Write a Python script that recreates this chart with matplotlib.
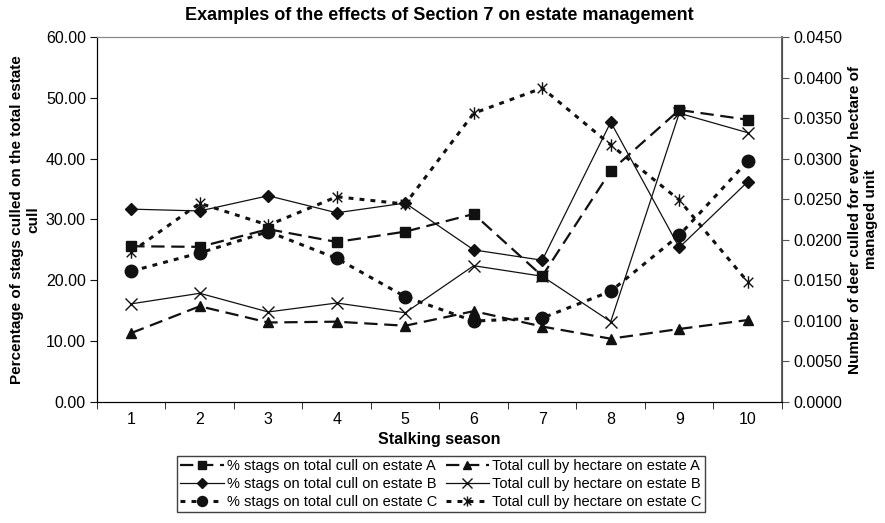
import numpy as np
import matplotlib
matplotlib.use("Agg")
import matplotlib.pyplot as plt
from matplotlib.path import Path

plt.rcParams['font.family'] = ['Liberation Sans', 'DejaVu Sans']

seasons = [1, 2, 3, 4, 5, 6, 7, 8, 9, 10]

# % stags culled on total cull (left axis)
stags_a = [25.6, 25.5, 28.4, 26.3, 28.0, 30.9, 20.7, 38.0, 48.0, 46.4]
stags_b = [31.7, 31.4, 33.9, 31.1, 32.7, 25.0, 23.3, 46.0, 25.4, 36.2]
stags_c = [21.5, 24.5, 28.0, 23.6, 17.3, 13.3, 13.8, 18.2, 27.4, 39.6]

# total cull by hectare (right axis)
cull_a = [0.0085, 0.0118, 0.0098, 0.0099, 0.0094, 0.0112, 0.0093, 0.0078, 0.0090, 0.0101]
cull_b = [0.0121, 0.0134, 0.0111, 0.0122, 0.0110, 0.0168, 0.0155, 0.0099, 0.0356, 0.0332]
cull_c = [0.0185, 0.0245, 0.0218, 0.0253, 0.0244, 0.0356, 0.0387, 0.0317, 0.0249, 0.0148]

# Excel-style star marker: an x with a vertical bar
star = Path([(-1, -1), (1, 1), (-1, 1), (1, -1), (0, -1.3), (0, 1.3)],
            [Path.MOVETO, Path.LINETO, Path.MOVETO, Path.LINETO, Path.MOVETO, Path.LINETO])

ink = '#111111'
fig, ax = plt.subplots(figsize=(8.85, 5.23), dpi=100)
fig.subplots_adjust(left=0.1096, right=0.8836, bottom=0.2314, top=0.9293)
ax2 = ax.twinx()

h1, = ax.plot(seasons, stags_a, color=ink, lw=1.6, dashes=(6, 3), marker='s', ms=7,
              label='% stags on total cull on estate A')
h2, = ax.plot(seasons, stags_b, color=ink, lw=0.9, marker='D', ms=6,
              label='% stags on total cull on estate B')
h3, = ax.plot(seasons, stags_c, color=ink, lw=2.2, dashes=(1.6, 2.0), marker='o', ms=9,
              label='% stags on total cull on estate C')
h4, = ax2.plot(seasons, cull_a, color=ink, lw=1.6, dashes=(6, 3), marker='^', ms=7,
               label='Total cull by hectare on estate A')
h5, = ax2.plot(seasons, cull_b, color=ink, lw=0.9, marker='x', ms=9, mew=1.0,
               label='Total cull by hectare on estate B')
h6, = ax2.plot(seasons, cull_c, color=ink, lw=2.2, dashes=(1.6, 2.0), marker=star, ms=9,
               mew=1.0, label='Total cull by hectare on estate C')

ax.set_xlim(0.5, 10.5)
ax.set_ylim(0, 60)
ax2.set_ylim(0, 0.045)
ax.set_yticks(np.arange(0, 61, 10))
ax.set_yticklabels([f'{v:.2f}' for v in np.arange(0, 61, 10)])
ax2.set_yticks(np.arange(0, 0.0451, 0.005))
ax2.set_yticklabels([f'{v:.4f}' for v in np.arange(0, 0.0451, 0.005)])

ax.set_xticks(seasons)
ax.set_xticks(np.arange(0.5, 10.6, 1), minor=True)
ax.tick_params(axis='x', which='major', length=0, labelsize=11.5, pad=7)
ax.tick_params(axis='x', which='minor', length=5, direction='out', color=ink)
ax.tick_params(axis='y', length=5, direction='out', labelsize=11.5, color=ink, pad=3)
ax2.tick_params(axis='y', length=5, direction='out', labelsize=11.5, color='#555555', pad=3)

for s in ['left', 'bottom']:
    ax.spines[s].set_color(ink)
ax.spines['top'].set_color('#888888')
ax2.spines['top'].set_color('#888888')
ax2.spines['right'].set_color('#555555')
ax2.spines['right'].set_linewidth(1.3)

ax.set_title('Examples of the effects of Section 7 on estate management',
             fontsize=13, fontweight='bold', pad=12)
ax.set_xlabel('Stalking season', fontsize=11.5, fontweight='bold', labelpad=4)
ax.set_ylabel('Percentage of stags culled on the total estate\ncull',
              fontsize=11, fontweight='bold', labelpad=4)
ax2.set_ylabel('Number of deer culled for every hectare of\nmanaged unit',
               fontsize=11, fontweight='bold', labelpad=4)

leg = fig.legend(handles=[h1, h2, h3, h4, h5, h6], ncol=2, loc='lower center',
                 bbox_to_anchor=(0.498, 0.008), fontsize=10.5, frameon=True, fancybox=False,
                 edgecolor=ink, handlelength=3.0, handletextpad=0.2, columnspacing=0.6,
                 labelspacing=0.25, borderpad=0.2, markerscale=0.8)
leg.get_frame().set_linewidth(1.0)

fig.savefig('out.png', dpi=100)
